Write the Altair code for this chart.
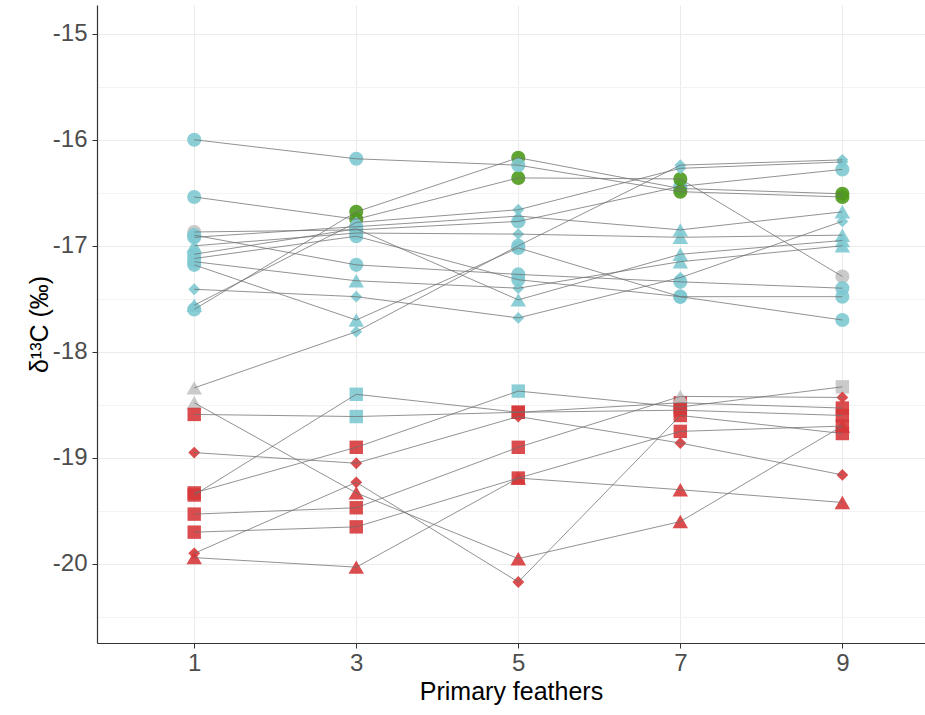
import altair as alt
import pandas as pd

# Primary feather positions
feathers = [1, 3, 5, 7, 9]

# Individual birds: delta13C per feather (1,3,5,7,9)
ids = ["U1", "U2", "U3", "U4", "U5", "U6", "U7", "U8", "U9", "U10", "U11", "U12", "U13", "M",
       "L1", "L2", "L3", "L4", "L5", "L6", "L7", "L8", "L9"]

d13c = [
    [-17.60, -16.68, -16.17, -16.46, -16.51],
    [-16.87, -16.85, -16.77, -16.44, -16.28],
    [-16.54, -16.75, -16.36, -16.37, -17.29],
    [-17.56, -16.78, -16.66, -16.27, -16.21],
    [-16.00, -16.18, -16.24, -16.49, -16.54],
    [-17.18, -17.70, -17.02, -17.48, -17.70],
    [-16.92, -16.82, -16.72, -16.85, -16.68],
    [-17.00, -16.88, -16.89, -16.92, -16.90],
    [-17.08, -16.84, -17.51, -17.08, -16.95],
    [-17.15, -17.33, -17.40, -17.15, -17.00],
    [-17.41, -17.48, -17.68, -17.30, -16.77],
    [-16.90, -17.18, -17.27, -17.34, -17.40],
    [-17.12, -16.91, -17.32, -17.48, -17.48],
    [-18.34, -17.81, -17.00, -16.24, -16.19],
    [-18.48, -19.33, -19.95, -19.60, -18.70],
    [-19.94, -20.03, -19.19, -19.30, -19.42],
    [-18.95, -19.05, -18.61, -18.86, -19.16],
    [-19.90, -19.23, -20.17, -18.60, -18.77],
    [-18.59, -18.61, -18.57, -18.48, -18.53],
    [-19.35, -18.40, -18.57, -18.55, -18.60],
    [-19.33, -18.90, -18.37, -18.52, -18.33],
    [-19.53, -19.47, -18.90, -18.42, -18.43],
    [-19.70, -19.65, -19.19, -18.75, -18.70],
]

# Point shape category per point: c=circle, s=square, d=diamond, t=triangle
shapes = [
    "ccccc", "ccccc", "ccccc", "tdddd", "ccccc", "ctccc", "ccttt",
    "tcdtt", "ccttt", "ctdtt", "ddddd", "ccccc", "ccccc", "tdcdd",
    "ttttt", "ttttt", "ddddd", "dddss", "sssss", "sssss", "sssss", "ssstd", "sssss",
]

# Group per point: b=blue group, r=red group, g=green group, k=grey
groups = [
    "bggbg", "kbbbb", "bgggk", "bbbbb", "bbbgg", "bbbbb", "bbbbb",
    "bbbbb", "bbbbb", "bbbbb", "bbbbb", "bbbbb", "bbbbb", "kbbbb",
    "krrrr", "rrrrr", "rrrrr", "rrrrr", "rbrrr", "rbrrr", "rrbrk", "rrrkr", "rrrrr",
]

shape_map = {"c": "circle", "s": "square", "d": "diamond", "t": "triangle-up"}
size_map = {"c": 200, "s": 180, "d": 140, "t": 240}
color_map = {"b": "#7ec9d1", "r": "#d6383a", "g": "#4f9a1c", "k": "#c4c4c4"}

rows = []
for i, ind in enumerate(ids):
    for j, f in enumerate(feathers):
        s = shapes[i][j]
        g = groups[i][j]
        rows.append({"id": ind, "feather": f, "d13C": d13c[i][j], "order": j,
                     "shape": shape_map[s], "size": size_map[s], "color": color_map[g]})
df = pd.DataFrame(rows)

font = "Liberation Sans"

x_enc = alt.X("feather:Q",
              scale=alt.Scale(domain=[-0.2, 10.02], nice=False, zero=False),
              axis=alt.Axis(values=feathers, title="Primary feathers", format="d",
                            labelFontSize=24, labelColor="#4d4d4d", labelFont=font,
                            titleFontSize=25, titleFont=font, titleColor="#000000",
                            titleFontWeight="normal", titlePadding=4,
                            tickSize=5, tickColor="#333333", labelPadding=3,
                            domainColor="#333333", domainWidth=1.2,
                            gridColor="#ebebeb", gridWidth=1))

y_vals = [-20.5, -20, -19.5, -19, -18.5, -18, -17.5, -17, -16.5, -16, -15.5, -15]
y_enc = alt.Y("d13C:Q",
              scale=alt.Scale(domain=[-20.745, -14.73], nice=False, zero=False),
              axis=alt.Axis(values=y_vals, title="δ¹³C (‰)",
                            labelExpr="datum.value % 1 == 0 ? '' + datum.value : ''",
                            labelOverlap=False,
                            labelFontSize=24, labelColor="#4d4d4d", labelFont=font,
                            titleFontSize=25, titleFont=font, titleColor="#000000",
                            titleFontWeight="normal", titlePadding=0,
                            tickSize=5, tickColor="#333333", labelPadding=5,
                            tickOpacity={"condition": {"test": "datum.value % 1 == 0", "value": 1}, "value": 0},
                            domainColor="#333333", domainWidth=1.2,
                            gridColor={"condition": {"test": "datum.value % 1 == 0", "value": "#ebebeb"}, "value": "#f3f3f3"},
                            gridWidth=1))

points = alt.Chart(df).mark_point(filled=True, opacity=0.9, strokeWidth=0).encode(
    x=x_enc, y=y_enc,
    shape=alt.Shape("shape:N", scale=None),
    color=alt.Color("color:N", scale=None),
    size=alt.Size("size:Q", scale=None),
)

lines = alt.Chart(df).mark_line(color="#707070", strokeWidth=0.9, opacity=0.85).encode(
    x=alt.X("feather:Q"), y=alt.Y("d13C:Q"), detail="id:N", order="order:Q"
)

chart = alt.layer(points, lines).properties(
    width=828, height=638,
    autosize=alt.AutoSizeParams(type="none"),
    padding={"left": 97, "top": 5, "right": 0, "bottom": 72},
    background="white",
).configure_view(stroke=None)

chart.save("out.html", embed_options={"renderer": "svg", "actions": False})
